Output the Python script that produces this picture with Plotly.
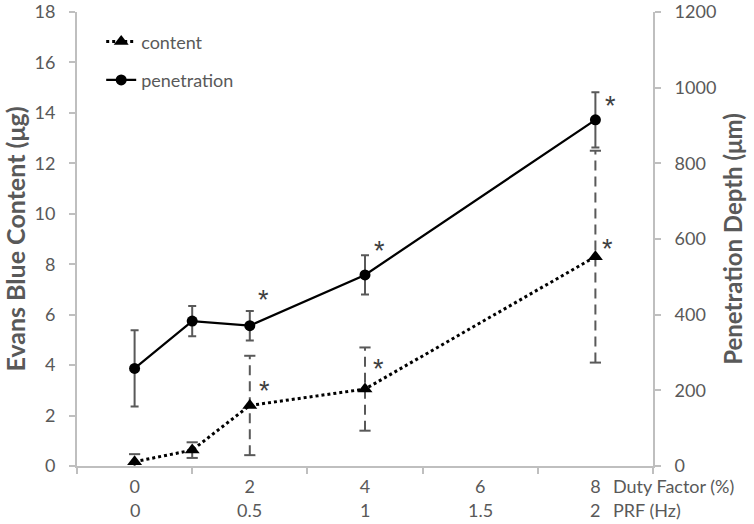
import plotly.graph_objects as go

# ---- data ----
duty_factor = [0, 1, 2, 4, 8]
content = [0.17, 0.63, 2.4, 3.05, 8.3]
content_err = [0.3, 0.31, 1.97, 1.65, 4.2]
penetration = [258, 383, 371, 505, 915]
penetration_err = [101, 40, 39, 52, 73]
significant = [False, False, True, True, True]

duty_ticks = [0, 2, 4, 6, 8]
duty_labels = ["0", "2", "4", "6", "8"]
prf_labels = ["0", "0.5", "1", "1.5", "2"]
between_ticks = [-1, 1, 3, 5, 7, 9]

FONT = "Lato, Carlito, 'Open Sans', sans-serif"
TXT = "#595959"
AX = "#BFBFBF"
ERR = "#595959"
TICKFS = 18
PLOT_H = 524 - 12 - 58

fig = go.Figure()

# dashed error bars for content (drawn via data coordinates)
ex, ey = [], []
for x, y, e in zip(duty_factor, content, content_err):
    ex += [x, x, None]
    ey += [y - e, y + e, None]
fig.add_trace(go.Scatter(x=ex, y=ey, mode="lines", line=dict(color=ERR, width=2, dash="10px,6px"),
                         showlegend=False, hoverinfo="skip", yaxis="y"))
cx, cy = [], []
for x, y, e in zip(duty_factor, content, content_err):
    cx += [x, x]
    cy += [y - e, y + e]
fig.add_trace(go.Scatter(x=cx, y=cy, mode="markers",
                         marker=dict(symbol="line-ew", size=8, line=dict(color=ERR, width=2)),
                         showlegend=False, hoverinfo="skip", yaxis="y"))

# content series
fig.add_trace(go.Scatter(x=duty_factor, y=content, mode="lines+markers", name="content",
                         line=dict(color="black", width=3, dash="dot"),
                         marker=dict(symbol="triangle-up", size=13, color="black"),
                         legendgroup="a", yaxis="y"))

# penetration series with solid error bars
fig.add_trace(go.Scatter(x=duty_factor, y=penetration, mode="lines+markers", name="penetration",
                         line=dict(color="black", width=2.25),
                         marker=dict(symbol="circle", size=11, color="black"),
                         error_y=dict(type="data", array=penetration_err, color=ERR, thickness=2, width=4),
                         legendgroup="b", yaxis="y2"))

# asterisks
star_offsets_content = [(0, 0), (0, 0), (15, 14), (13, 20), (12, 8)]
star_offsets_pen = [(0, 0), (0, 0), (14, 26), (14, 24), (15, 14)]
STAR_FONT = dict(family="'Liberation Sans', Arial, sans-serif", size=27, color="#404040")
for i, (x, sig) in enumerate(zip(duty_factor, significant)):
    if not sig:
        continue
    dx, dy = star_offsets_content[i]
    fig.add_annotation(x=x, y=content[i], xref="x", yref="y", text="*", showarrow=False,
                       xshift=dx, yshift=dy, font=STAR_FONT)
    dx, dy = star_offsets_pen[i]
    fig.add_annotation(x=x, y=penetration[i], xref="x", yref="y2", text="*", showarrow=False,
                       xshift=dx, yshift=dy, font=STAR_FONT)

# second row of x labels (PRF)
for x, lab in zip(duty_ticks, prf_labels):
    fig.add_annotation(x=x, y=-44 / PLOT_H, xref="x", yref="paper", text=lab, showarrow=False,
                       yanchor="middle", font=dict(family=FONT, size=TICKFS, color=TXT))
fig.add_annotation(x=duty_ticks[-1], y=-20 / PLOT_H, xref="x", yref="paper", text="Duty Factor (%)",
                   showarrow=False, xanchor="left", yanchor="middle", xshift=16,
                   font=dict(family=FONT, size=TICKFS, color=TXT))
fig.add_annotation(x=duty_ticks[-1], y=-44 / PLOT_H, xref="x", yref="paper", text="PRF (Hz)",
                   showarrow=False, xanchor="left", yanchor="middle", xshift=16,
                   font=dict(family=FONT, size=TICKFS, color=TXT))

fig.update_layout(
    width=754, height=524,
    margin=dict(l=77, r=101, t=12, b=58),
    paper_bgcolor="white", plot_bgcolor="white",
    font=dict(family=FONT, size=TICKFS, color=TXT),
    showlegend=True,
    legend=dict(x=0.042, y=0.975, xanchor="left", yanchor="top", traceorder="grouped",
                tracegroupgap=12, bgcolor="rgba(0,0,0,0)", font=dict(size=18, color=TXT)),
    xaxis=dict(range=[-1, 9], tickvals=duty_ticks, ticktext=duty_labels, ticks="",
               showline=True, linecolor=AX, linewidth=2, showgrid=False, zeroline=False,
               ticklabelstandoff=3, automargin=False,
               minor=dict(tickvals=between_ticks, ticks="outside", ticklen=6, tickcolor=AX, tickwidth=1.5)),
    yaxis=dict(range=[0, 18], tickvals=list(range(0, 19, 2)), ticks="outside", ticklen=6, tickcolor=AX,
               tickwidth=1.5, showline=True, linecolor=AX, linewidth=2, showgrid=False, zeroline=False,
               ticklabelstandoff=10, automargin=False, ticklabeloverflow="allow",
               title=dict(text="<b>Evans Blue Content (μg)</b>", font=dict(size=25, color=TXT), standoff=8)),
    yaxis2=dict(range=[0, 1200], tickvals=list(range(0, 1201, 200)), overlaying="y", side="right",
                ticks="outside", ticklen=6, tickcolor=AX, tickwidth=1.5, showline=True, linecolor=AX,
                linewidth=2, showgrid=False, zeroline=False, ticklabelstandoff=10, automargin=False,
                ticklabeloverflow="allow",
                title=dict(text="<b>Penetration Depth (μm)</b>", font=dict(size=24, color=TXT), standoff=10)),
)

fig.write_html("out.html", config={"displayModeBar": False},
               post_script="document.body.style.margin='0';")
